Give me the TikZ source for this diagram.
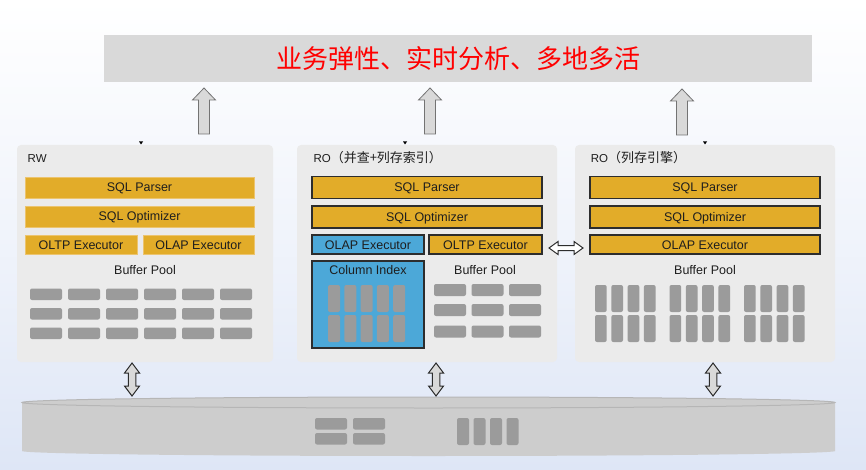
\documentclass[tikz,border=0pt]{standalone}
\usepackage{fontspec}
\setmainfont{Liberation Sans}
\newfontfamily\cjk{Noto Sans CJK SC}
\usetikzlibrary{calc}
\definecolor{gold}{RGB}{226,172,41}
\definecolor{goldline}{RGB}{236,196,110}
\definecolor{colblue}{RGB}{76,168,216}
\definecolor{blockgray}{RGB}{155,155,155}
\definecolor{panelgray}{RGB}{235,235,235}
\definecolor{bannergray}{RGB}{217,217,217}
\definecolor{cylgray}{RGB}{205,205,205}
\definecolor{cylring}{RGB}{182,182,182}
\definecolor{bgblue}{RGB}{222,230,246}
\definecolor{darkline}{RGB}{45,45,45}
\definecolor{txt}{RGB}{30,30,30}
\tikzset{
  panel/.style={fill=panelgray, rounded corners=4pt, inner sep=0pt},
  banner/.style={fill=bannergray, inner sep=0pt},
  lbl/.style={anchor=west, inner sep=0pt, text=txt, text height=8.3pt, text depth=0pt, font=\fontsize{11.5}{13}\selectfont},
  txtlbl/.style={inner sep=0pt, text=txt, text height=9pt, text depth=0pt, font=\fontsize{12.5}{14}\selectfont},
  boxtext/.style={inner sep=0pt, text=txt, text height=9pt, text depth=0pt, font=\fontsize{12.5}{14}\selectfont},
  goldflat/.style={boxtext, fill=gold, draw=goldline, line width=0.6pt},
  goldbox/.style={boxtext, fill=gold, draw=darkline, line width=1.2pt},
  bluebox/.style={boxtext, fill=colblue, draw=darkline, line width=1.2pt},
  blk/.style={fill=blockgray, rounded corners=2pt},
  uparr/.style={fill=bannergray, draw=gray!90!black, line width=0.8pt, line join=miter},
  darr/.style={fill=bannergray, draw=darkline, line width=1pt, line join=miter},
  harr/.style={fill=white, draw=darkline, line width=1pt, line join=miter},
  tick/.style={fill=black}
}
\newcommand\upblock[2]{% #1 tip coordinate, #2 tail coordinate
  \draw[uparr] (#1) -- ($(#1)+(11.5,12)$) -- ($(#1)+(5.5,12)$) -- ($(#2)+(5.5,0)$) -- ($(#2)+(-5.5,0)$) -- ($(#1)+(-5.5,12)$) -- ($(#1)+(-11.5,12)$) -- cycle;}
\newcommand\vdblock[2]{% #1 top tip, #2 bottom tip
  \draw[darr] (#1) -- ($(#1)+(7.5,10)$) -- ($(#1)+(3.75,10)$) -- ($(#2)+(3.75,-10)$) -- ($(#2)+(7.5,-10)$) -- (#2) -- ($(#2)+(-7.5,-10)$) -- ($(#2)+(-3.75,-10)$) -- ($(#1)+(-3.75,10)$) -- ($(#1)+(-7.5,10)$) -- cycle;}
\newcommand\hdblock[2]{% #1 left tip, #2 right tip
  \draw[harr] (#1) -- ($(#1)+(9,-6.5)$) -- ($(#1)+(9,-2.5)$) -- ($(#2)+(-9,-2.5)$) -- ($(#2)+(-9,-6.5)$) -- (#2) -- ($(#2)+(-9,6.5)$) -- ($(#2)+(-9,2.5)$) -- ($(#1)+(9,2.5)$) -- ($(#1)+(9,6.5)$) -- cycle;}
\newcommand\tickmark[1]{\fill[tick] ($(#1)+(-2,-1.5)$) -- ($(#1)+(2,-1.5)$) -- ($(#1)+(0,1.5)$) -- cycle;}
\newcommand\cjklbl[1]{{\cjk\fontsize{13}{15}\selectfont #1}}
\begin{document}
\begin{tikzpicture}[x=1pt,y=-1pt]
\useasboundingbox (0,0) rectangle (866,470);
\shade[top color=white, bottom color=bgblue, middle color=white!55!bgblue] (0,0) rectangle (866,470);

% banner
\node[banner, minimum width=708, minimum height=47] (goal) at (458,58.5)
  {\cjk\fontsize{26}{30}\selectfont\color{red}业务弹性、实时分析、多地多活};

% panels
\node[panel, minimum width=256, minimum height=217] (rw) at (145,253.5) {};
\node[panel, minimum width=260, minimum height=217] (ro1) at (427,253.5) {};
\node[panel, minimum width=260, minimum height=217] (ro2) at (705,253.5) {};

\coordinate (t1) at (141,143);
\coordinate (t2) at (405,143);
\coordinate (t3) at (705,143);
\tickmark{t1}\tickmark{t2}\tickmark{t3}

% up arrows
\coordinate (u1a) at (204,88);  \coordinate (u1b) at (204,134);
\coordinate (u2a) at (430,88);  \coordinate (u2b) at (430,134);
\coordinate (u3a) at (682,89);  \coordinate (u3b) at (682,135);
\upblock{u1a}{u1b}\upblock{u2a}{u2b}\upblock{u3a}{u3b}

% RW panel
\node[lbl] (rwl) at (27.5,158) {RW};
\node[goldflat, minimum width=229, minimum height=21] (rwp) at (139.5,187.5) {SQL Parser};
\node[goldflat, minimum width=229, minimum height=21] (rwo) at (139.5,216.5) {SQL Optimizer};
\node[goldflat, minimum width=112, minimum height=19] (rwt) at (81,244.5) {OLTP Executor};
\node[goldflat, minimum width=111, minimum height=19] (rwa) at (198.5,244.5) {OLAP Executor};
\node[txtlbl] (rwb) at (145,270) {Buffer Pool};
\foreach \i in {0,...,5}{
  \foreach \j in {0,1,2}{
    \fill[blk] ({30+38*\i},{288.5+19.5*\j}) rectangle ++(32,11.5);
  }
}

% RO (parallel + column index)
\node[lbl] (r1l) at (313.3,158) {RO\cjklbl{（并查+列存索引）}};
\node[goldbox, minimum width=230, minimum height=22] (r1p) at (427,187.5) {SQL Parser};
\node[goldbox, minimum width=230, minimum height=22] (r1o) at (427,217) {SQL Optimizer};
\node[bluebox, minimum width=112, minimum height=19] (r1a) at (368,244.5) {OLAP Executor};
\node[goldbox, minimum width=113, minimum height=19] (r1t) at (485.5,244.5) {OLTP Executor};
\node[bluebox, minimum width=112, minimum height=87] (r1c) at (368,304.5) {};
\node[txtlbl] (r1cl) at (368,269.5) {Column Index};
\foreach \i in {0,...,4}{
  \foreach \j in {0,1}{
    \fill[blk] ({328+16.3*\i},{285+30*\j}) rectangle ++(12,27);
  }
}
\node[txtlbl] (r1b) at (485,269.5) {Buffer Pool};
\foreach \i in {0,1,2}{
  \foreach \y in {284,304,325.5}{
    \fill[blk] ({434+37.5*\i},\y) rectangle ++(32,12);
  }
}

% RO (column engine)
\node[lbl] (r2l) at (590.7,158) {RO\cjklbl{（列存引擎）}};
\node[goldbox, minimum width=230, minimum height=22] (r2p) at (705,187.5) {SQL Parser};
\node[goldbox, minimum width=230, minimum height=22] (r2o) at (705,217) {SQL Optimizer};
\node[goldbox, minimum width=230, minimum height=19] (r2a) at (705,244.5) {OLAP Executor};
\node[txtlbl] (r2b) at (705,269.5) {Buffer Pool};
\foreach \g in {595,669.5,744}{
  \foreach \i in {0,...,3}{
    \foreach \j in {0,1}{
      \fill[blk] ({\g+16.3*\i},{285+30*\j}) rectangle ++(11.7,27);
    }
  }
}

% horizontal double arrow between RO panels
\coordinate (h1) at (549,248);
\coordinate (h2) at (583,248);
\hdblock{h1}{h2}

% storage cylinder
\fill[cylgray] (22,402.5) -- (22,451) arc[start angle=180, end angle=0, x radius=406.5, y radius=5] -- (835,402.5) -- cycle;
\draw[cylring, fill=cylgray, line width=1pt] (428.5,402.5) ellipse[x radius=406.5, y radius=5.5];
\node[inner sep=0pt, minimum width=813, minimum height=55] (store) at (428.5,427) {};
\foreach \x in {315,353}{
  \foreach \y in {418,433}{
    \fill[blk] (\x,\y) rectangle ++(32,11.5);
  }
}
\foreach \x in {457,473.5,490,506.5}{
  \fill[blk] (\x,418) rectangle ++(12,27);
}

% vertical double arrows
\coordinate (d1a) at (132,363); \coordinate (d1b) at (132,396);
\coordinate (d2a) at (436,363); \coordinate (d2b) at (436,396);
\coordinate (d3a) at (713,363); \coordinate (d3b) at (713,396);
\vdblock{d1a}{d1b}\vdblock{d2a}{d2b}\vdblock{d3a}{d3b}
\end{tikzpicture}
\end{document}
